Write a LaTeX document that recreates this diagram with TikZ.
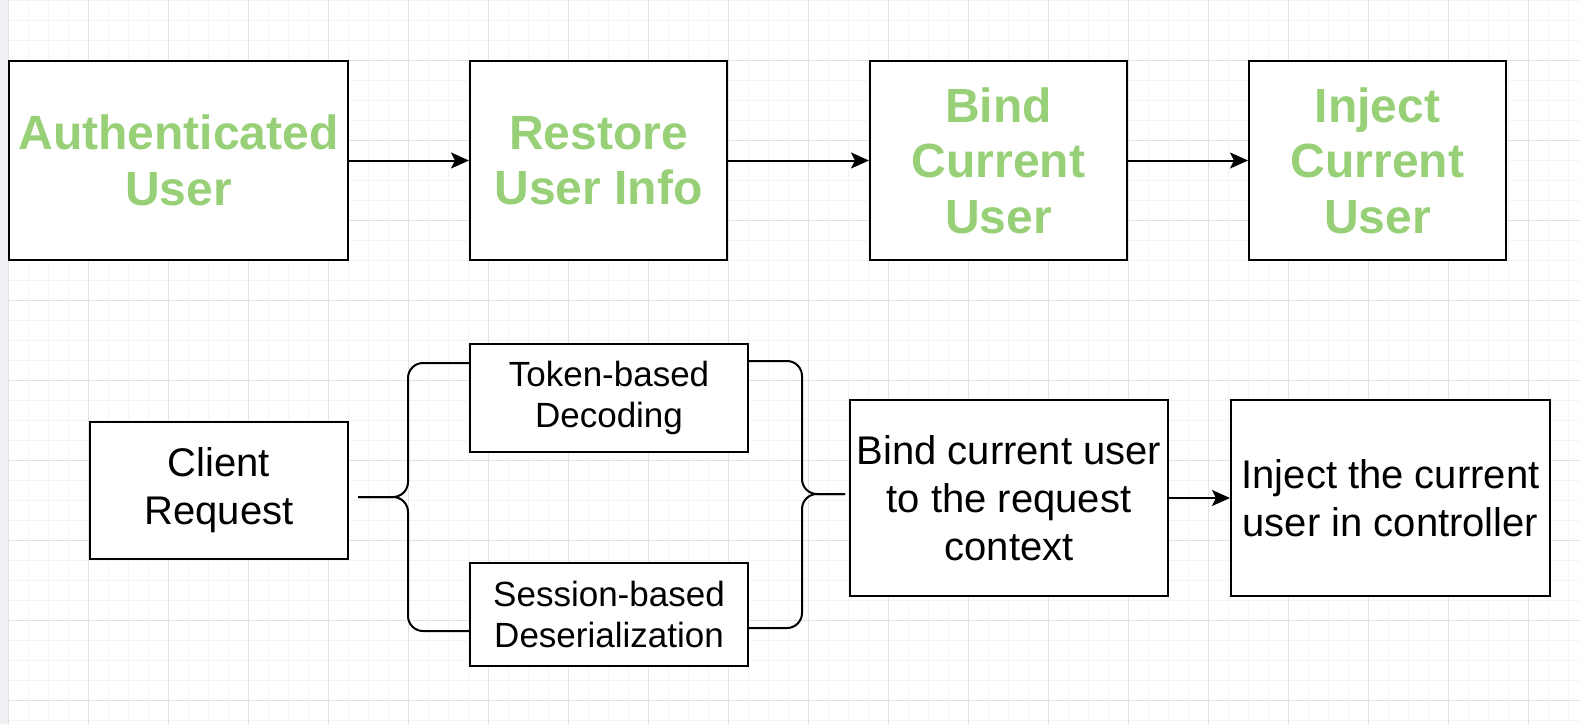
\documentclass[tikz,border=0pt]{standalone}
\usepackage{fontspec}
\setmainfont{Liberation Sans}
\usetikzlibrary{positioning, arrows.meta}

\definecolor{drawgreen}{HTML}{97D077}
\definecolor{minorgrid}{HTML}{F4F4F4}
\definecolor{majorgrid}{HTML}{E2E2E2}
\definecolor{sidebar}{HTML}{EFF0F3}

\begin{document}
\begin{tikzpicture}[
    x=1pt, y=-1pt,
    node distance=120pt, %% gap between the top boxes
    box/.style={
        rectangle,
        draw=black,
        line width=2pt,
        align=center,
        fill=white,
        inner sep=0pt
    },
    stage/.style={
        box,
        minimum width=257pt,
        minimum height=199pt,
        text=drawgreen,
        font=\fontsize{48}{55.5}\selectfont\bfseries
    },
    flowbox/.style={
        box,
        minimum height=196pt,
        font=\fontsize{40}{48}\selectfont
    },
    authbox/.style={
        box,
        minimum width=278pt,
        font=\fontsize{35}{41}\selectfont
    },
    arrow/.style={
        -{Stealth[length=18pt, width=16pt, inset=4pt]},
        line width=2pt
    },
    link/.style={
        line width=2pt,
        rounded corners=15pt
    }
]
\useasboundingbox (0,0) rectangle (1580,724);

%% Background grid
\fill[white] (0,0) rectangle (1580,724);
\fill[sidebar] (0,0) rectangle (8,724);
\begin{scope}[shift={(8,0)}]
    \draw[minorgrid, line width=1pt, step=20pt] (0,724) grid (1572,0);
\end{scope}
\begin{scope}[shift={(8,60)}]
    \draw[majorgrid, line width=1pt, step=80pt] (0,664) grid (1572,-60);
\end{scope}

%% Top Row Nodes
\node[stage, minimum width=339pt] (authuser) at (178.5,160.5) {Authenticated\\User};
\node[stage, right=of authuser] (restore) {Restore\\User Info};
\node[stage, right=141pt of restore] (bindtop) {Bind\\Current\\User};
\node[stage, right=of bindtop] (injecttop) {Inject\\Current\\User};

%% Bottom Row Nodes
\node[flowbox, minimum width=258pt, minimum height=137pt] (client) at (219,490.5) {Client\\Request};
\node[authbox, minimum height=108pt] (token) at (609,398) {Token-based\\Decoding};
\node[authbox, minimum height=103pt] (session) at (609,614.5) {Session-based\\Deserialization};
\node[flowbox, minimum width=318pt] (bindctx) at (1009,498) {Bind current user\\to the request\\context};
\node[flowbox, minimum width=319pt, right=61pt of bindctx] (injectctl) {Inject the current\\user in controller};

\coordinate (fork) at (358,497);
\coordinate (merge) at (845,494);

%% Top Connections
\draw[arrow] (authuser) -- (restore);
\draw[arrow] (restore) -- (bindtop);
\draw[arrow] (bindtop) -- (injecttop);

%% Braces
\draw[link] (fork) -- (408,497) |- ([yshift=35pt]token.west);
\draw[link] (fork) -- (408,497) |- ([yshift=-16.5pt]session.west);
\draw[link] ([yshift=37pt]token.east) -| (802,494) -- (merge);
\draw[link] ([yshift=-13.5pt]session.east) -| (802,494) -- (merge);

\draw[arrow] (bindctx) -- (injectctl);

\end{tikzpicture}
\end{document}
